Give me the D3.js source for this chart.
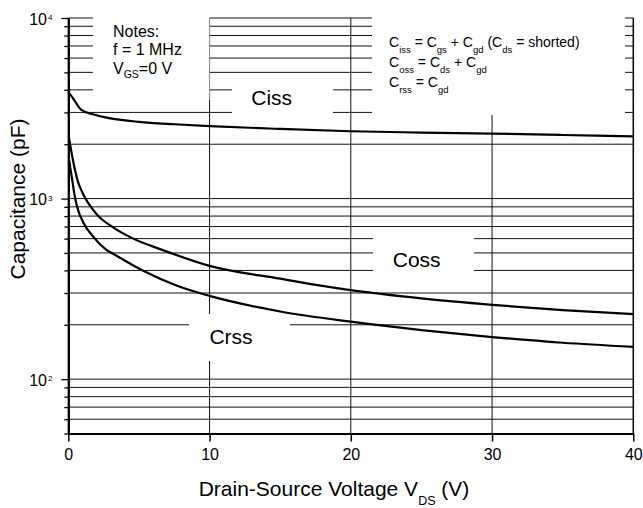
<!DOCTYPE html>
<html>
<head>
<meta charset="utf-8">
<script src="https://cdn.jsdelivr.net/npm/d3@7/dist/d3.min.js"></script>
<style>
  html, body { margin: 0; padding: 0; background: #fff; }
  svg { display: block; font-family: Arial, "Liberation Sans", Helvetica, sans-serif; }
</style>
</head>
<body>
<svg id="chart" width="643" height="508"></svg>
<script>
// ---------------- data ----------------
const xTicks = [0, 10, 20, 30, 40];
const yMajorExps = [2, 3, 4];

const cissV = [0, 0.35, 0.9, 1.8, 3, 5, 7.5, 10, 15, 20, 25, 30, 35, 40];
const cissC = [3900, 3580, 3110, 2920, 2780, 2660, 2580, 2520, 2430, 2360, 2320, 2290, 2250, 2210];

const cossV = [0.05, 0.35, 0.7, 1.05, 2, 3.2, 4.6, 6.5, 10, 15, 20, 25, 30, 35, 40];
const cossC = [2170, 1600, 1230, 1060, 820, 690, 600, 525, 424, 360, 311, 280, 258, 241, 229];

const crssV = [0.05, 0.25, 0.47, 0.7, 1.05, 1.8, 2.7, 3.2, 5.3, 7.7, 10, 15, 20, 25, 30, 35, 40];
const crssC = [1640, 1310, 1016, 860, 740, 610, 520, 493, 398, 329, 289, 237, 208, 187, 171, 159, 151];

const seriesNames = ["Ciss", "Coss", "Crss"];

// ---------------- layout ----------------
const W = 643, H = 508;
const L = 68.3, R = 633.3, T = 18, B = 433.5;

const svg = d3.select("#chart");
const x = d3.scaleLinear().domain([0, 40]).range([L, R]);
const y = d3.scaleLog().domain([50, 10000]).range([B, T]);

// grid values (all log minor + major lines)
const gridVals = [];
for (let e = 1; e <= 3; e++) {
  for (let m = 1; m <= 9; m++) {
    const v = m * Math.pow(10, e);
    if (v >= 50 && v <= 10000) gridVals.push(v);
  }
}
gridVals.push(10000);
const majorVals = yMajorExps.map(e => Math.pow(10, e));
const minorVals = gridVals.filter(v => !majorVals.includes(v));

const grid = svg.append("g");
grid.selectAll("line.h").data(gridVals).join("line")
  .attr("x1", L).attr("x2", R)
  .attr("y1", d => y(d)).attr("y2", d => y(d))
  .attr("stroke", "#111").attr("stroke-width", 1);
grid.selectAll("line.v").data(xTicks.slice(1, -1)).join("line")
  .attr("x1", d => x(d)).attr("x2", d => x(d))
  .attr("y1", T).attr("y2", B)
  .attr("stroke", "#111").attr("stroke-width", 1);

// white boxes behind annotation text (interrupt grid)
const boxes = [
  [93, 8, 116.5, 92],     // notes
  [372, 8, 253, 107],     // equations
  [232, 80, 101, 40],     // Ciss
  [373, 230, 101, 51],    // Coss
  [189, 314, 101, 47]     // Crss
];
svg.append("g").selectAll("rect").data(boxes).join("rect")
  .attr("x", d => d[0]).attr("y", d => d[1])
  .attr("width", d => d[2]).attr("height", d => d[3])
  .attr("fill", "#fff");

// right border
svg.append("line").attr("x1", R).attr("x2", R).attr("y1", T).attr("y2", B)
  .attr("stroke", "#000").attr("stroke-width", 1.5);

// axes
const axL = svg.append("g").attr("transform", `translate(${L},0)`)
  .call(d3.axisLeft(y).tickValues(minorVals).tickSize(4).tickSizeOuter(0).tickFormat(""));
const axL2 = svg.append("g").attr("transform", `translate(${L},0)`)
  .call(d3.axisLeft(y).tickValues(majorVals).tickSize(7).tickSizeOuter(0).tickFormat(""));
[axL, axL2].forEach(a => {
  a.selectAll("path").attr("stroke", "#000").attr("stroke-width", 2);
  a.selectAll("line").attr("stroke", "#000").attr("stroke-width", 1.3);
});

const axB = svg.append("g").attr("transform", `translate(0,${B})`)
  .call(d3.axisBottom(x).tickValues(xTicks).tickSize(8).tickSizeOuter(0).tickPadding(7.5)
    .tickFormat(d3.format("d")));
axB.selectAll("path").attr("stroke", "#000").attr("stroke-width", 2);
axB.selectAll("line").attr("stroke", "#000").attr("stroke-width", 1.5);
axB.selectAll("text").attr("font-size", 16).attr("fill", "#000")
  .attr("font-family", "Arial, 'Liberation Sans', sans-serif");

// y tick labels 10^n
const yl = svg.append("g");
yMajorExps.forEach(e => {
  const yy = y(Math.pow(10, e));
  yl.append("text").attr("x", 47).attr("y", yy + 6.5)
    .attr("text-anchor", "end").attr("font-size", 16).text("10");
  yl.append("text").attr("x", 48).attr("y", yy + 2)
    .attr("font-size", 8).text(String(e));
});

// curves
const line = d3.line().x(d => x(d[0])).y(d => y(d[1])).curve(d3.curveMonotoneX);
const series = [
  d3.zip(cissV, cissC),
  d3.zip(cossV, cossC),
  d3.zip(crssV, crssC)
];
svg.append("g").selectAll("path").data(series).join("path")
  .attr("d", line).attr("fill", "none")
  .attr("stroke", "#000").attr("stroke-width", 2.2);

// rich text helper
function rich(g, xx, yy, parts, size, subSize, subDy, anchor) {
  const t = g.append("text").attr("x", xx).attr("y", yy)
    .attr("font-size", size).attr("fill", "#000");
  if (anchor) t.attr("text-anchor", anchor);
  let down = false;
  parts.forEach(p => {
    const sub = Array.isArray(p);
    const s = sub ? p[0] : p;
    const ts = t.append("tspan").text(s);
    if (sub && !down) { ts.attr("dy", subDy).attr("font-size", subSize); down = true; }
    else if (sub) { ts.attr("font-size", subSize); }
    else if (!sub && down) { ts.attr("dy", -subDy); down = false; }
  });
  return t;
}

const ann = svg.append("g");
// Notes
ann.append("text").attr("x", 113).attr("y", 36.7).attr("font-size", 16).text("Notes:");
ann.append("text").attr("x", 113).attr("y", 55.2).attr("font-size", 16).text("f = 1 MHz");
rich(ann, 113, 73.8, ["V", ["GS"], "=0 V"], 16, 10.5, 4);

// Equations
rich(ann, 389, 47, ["C", ["iss"], " = C", ["gs"], " + C", ["gd"], " (C", ["ds"], " = shorted)"], 14, 9.5, 6);
rich(ann, 389, 67, ["C", ["oss"], " = C", ["ds"], " + C", ["gd"]], 14, 9.5, 6);
rich(ann, 389, 87, ["C", ["rss"], " = C", ["gd"]], 14, 9.5, 6);

// curve labels
const labelPos = [[271.7, 105], [416.7, 266.5], [231, 344]];
seriesNames.forEach((n, i) => {
  ann.append("text").attr("x", labelPos[i][0]).attr("y", labelPos[i][1])
    .attr("text-anchor", "middle").attr("font-size", 21).text(n);
});

// axis titles
rich(svg, 334, 496.3, ["Drain-Source Voltage V", ["DS"], " (V)"], 21, 12.5, 8.5, "middle");
svg.append("text").attr("transform", "translate(24.5,199) rotate(-90)")
  .attr("text-anchor", "middle").attr("font-size", 21).text("Capacitance (pF)");
</script>
</body>
</html>
